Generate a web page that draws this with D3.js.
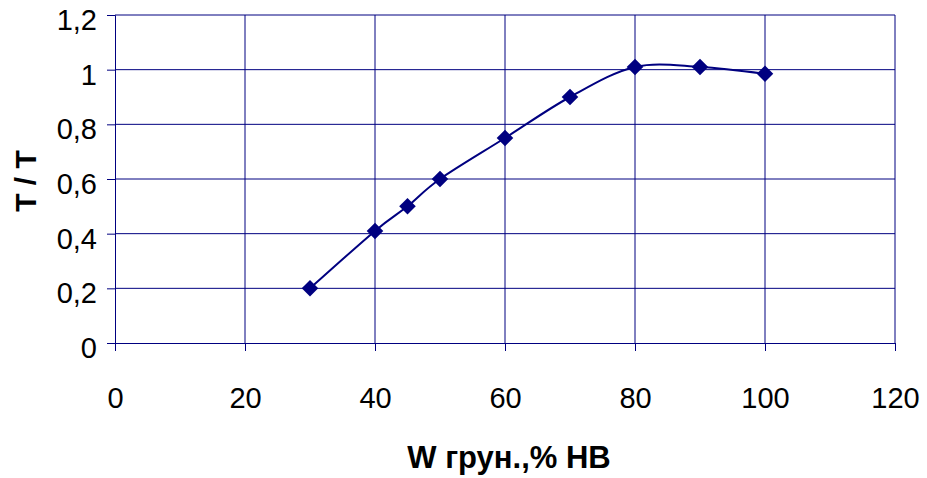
<!DOCTYPE html>
<html>
<head>
<meta charset="utf-8">
<script src="https://cdn.jsdelivr.net/npm/d3@7"></script>
<style>
  html, body { margin: 0; padding: 0; background: #fff; }
  svg { display: block; font-family: "Liberation Sans", Arial, sans-serif; }
</style>
</head>
<body>
<svg id="chart" width="927" height="478"></svg>
<script>
// Soil moisture (% of field capacity) and relative transpiration
const moisture = [30, 40, 45, 50, 60, 70, 80, 90, 100];
const ratio = [0.2, 0.41, 0.5, 0.6, 0.75, 0.9, 1.01, 1.01, 0.985];
const xTicks = [0, 20, 40, 60, 80, 100, 120];
const yTicks = [0, 0.2, 0.4, 0.6, 0.8, 1, 1.2];
const xTitle = "W грун.,% НВ";
const yTitle = "T / T";

const navy = "#000080";
const svg = d3.select("#chart");
const margin = { left: 115, right: 32, top: 15, bottom: 135 };
const width = 927, height = 478;

const x = d3.scaleLinear().domain([0, 120]).range([margin.left, width - margin.right]);
const y = d3.scaleLinear().domain([0, 1.2]).range([height - margin.bottom, margin.top]);

const fmt = d => d3.format("~g")(d).replace(".", ",");

// Gridlines
const grid = svg.append("g");
grid.selectAll("line.h").data(yTicks.filter(d => d > 0)).join("line")
  .attr("x1", x(0)).attr("x2", x(120))
  .attr("y1", d => y(d)).attr("y2", d => y(d))
  .attr("stroke", navy).attr("stroke-width", 1);
grid.selectAll("line.v").data(xTicks.filter(d => d > 0)).join("line")
  .attr("x1", d => x(d)).attr("x2", d => x(d))
  .attr("y1", y(0)).attr("y2", y(1.2))
  .attr("stroke", navy).attr("stroke-width", 1);

// Axes
const xAxis = svg.append("g").attr("transform", `translate(0,${y(0)})`)
  .call(d3.axisBottom(x).tickValues(xTicks).tickSize(8).tickPadding(36).tickFormat(fmt));
const yAxis = svg.append("g").attr("transform", `translate(${x(0)},0)`)
  .call(d3.axisLeft(y).tickValues(yTicks).tickSize(8).tickPadding(10).tickFormat(fmt));

[xAxis, yAxis].forEach(g => {
  g.select(".domain").attr("stroke", navy).attr("stroke-width", 1);
  g.selectAll(".tick line").attr("stroke", navy).attr("stroke-width", 1);
  g.selectAll(".tick text").attr("fill", "#000")
    .attr("font-family", "Liberation Sans, Arial, sans-serif")
    .attr("font-size", 29);
});
yAxis.selectAll(".tick text").attr("dy", "0.5em");

// Smoothed curve
const line = d3.line()
  .x((d, i) => x(moisture[i]))
  .y(d => y(d))
  .curve(d3.curveCardinal.tension(0));
svg.append("path").datum(ratio)
  .attr("d", line)
  .attr("fill", "none")
  .attr("stroke", navy)
  .attr("stroke-width", 2);

// Diamond markers
const diamond = d3.symbol().type(d3.symbolDiamond2).size(175);
svg.selectAll("path.marker").data(ratio).join("path")
  .attr("class", "marker")
  .attr("d", diamond)
  .attr("transform", (d, i) => `translate(${x(moisture[i])},${y(d)})`)
  .attr("fill", navy);

// Axis titles
svg.append("text")
  .attr("x", 509)
  .attr("y", 468)
  .attr("text-anchor", "middle")
  .attr("font-size", 31)
  .attr("font-weight", "bold")
  .text(xTitle);

svg.append("text")
  .attr("transform", `translate(36,${181}) rotate(-90)`)
  .attr("text-anchor", "middle")
  .attr("font-size", 30)
  .attr("font-weight", "bold")
  .text(yTitle);
</script>
</body>
</html>
